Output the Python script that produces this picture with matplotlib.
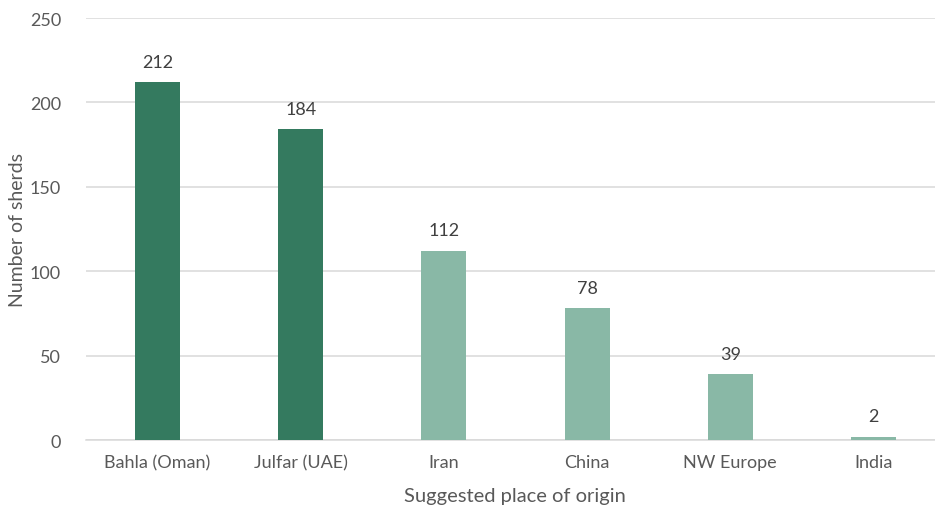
import matplotlib
matplotlib.use("Agg")
import matplotlib.pyplot as plt

categories = ["Bahla (Oman)", "Julfar (UAE)", "Iran", "China", "NW Europe", "India"]
counts = [212, 184, 112, 78, 39, 2]
bar_colors = ["#347A5F", "#347A5F", "#89B8A6", "#89B8A6", "#89B8A6", "#89B8A6"]
y_ticks = [0, 50, 100, 150, 200, 250]

plt.rcParams["font.family"] = ["Lato", "DejaVu Sans"]
text_color = "#595959"

fig = plt.figure(figsize=(9.35, 5.1), dpi=100)
ax = fig.add_axes([86 / 935, 1 - 441 / 510, 859 / 935, 422 / 510])

x = range(len(categories))
bars = ax.bar(x, counts, width=0.315, color=bar_colors, zorder=3)
for rect, v in zip(bars, counts):
    ax.annotate(str(v), (rect.get_x() + rect.get_width() / 2, v),
                xytext=(0, 9), textcoords="offset points",
                ha="center", va="bottom", fontsize=13, color="#404040")

ax.set_xlim(-0.5, len(categories) - 0.5)
ax.set_ylim(0, 250)
ax.set_yticks(y_ticks)
ax.set_xticks(list(x))
ax.set_xticklabels(categories)
ax.tick_params(axis="both", length=0, labelsize=13, colors=text_color)
ax.tick_params(axis="y", pad=18)
ax.tick_params(axis="x", pad=10)
ax.grid(axis="y", color="#D9D9D9", linewidth=1.1, zorder=0)
for side in ["top", "right", "left"]:
    ax.spines[side].set_visible(False)
ax.spines["bottom"].set_color("#D9D9D9")
ax.spines["bottom"].set_linewidth(1.1)

fig.text(18 / 935, 1 - 230 / 510, "Number of sherds", rotation=90,
         ha="center", va="center", fontsize=14, color=text_color)
fig.text(515 / 935, 1 - 497 / 510, "Suggested place of origin",
         ha="center", va="center", fontsize=14.5, color=text_color)

fig.savefig("out.png", dpi=100)
